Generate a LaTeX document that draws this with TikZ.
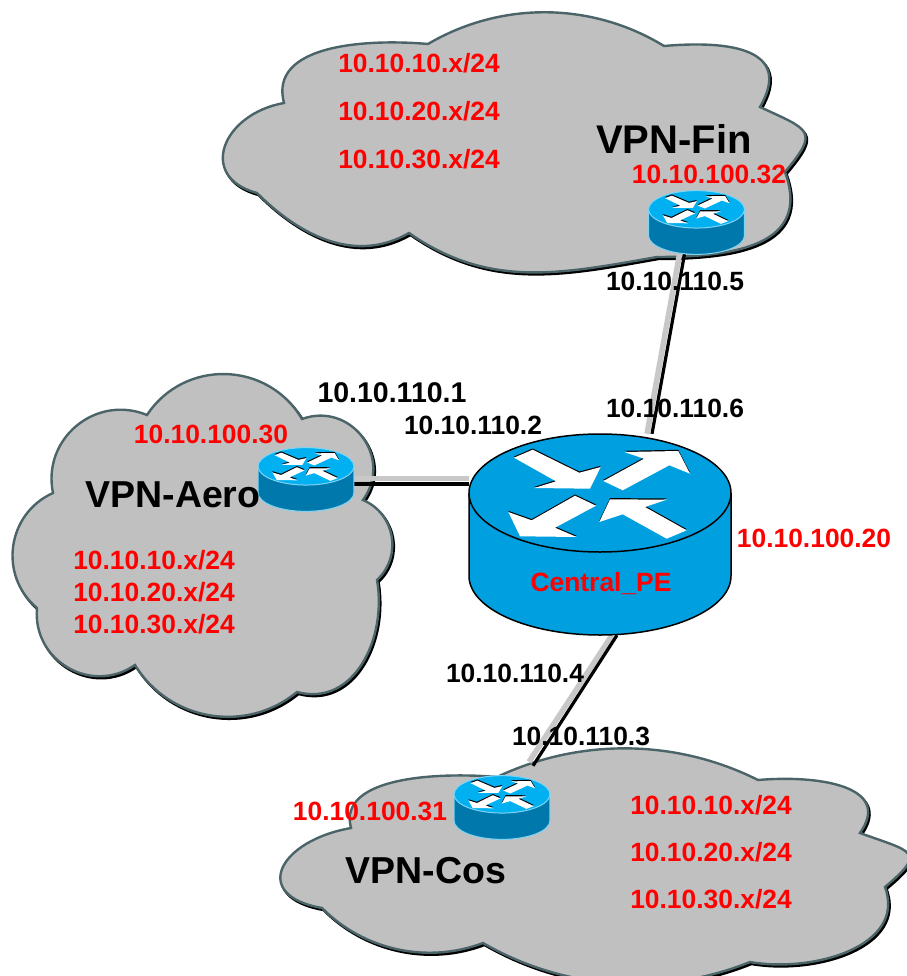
\documentclass[tikz,border=0pt]{standalone}
\usepackage{fontspec}
\setmainfont{Liberation Sans}
\usetikzlibrary{positioning}
\definecolor{cloudgray}{HTML}{C0C0C0}
\definecolor{cloudedge}{HTML}{4A6468}
\definecolor{toplight}{HTML}{00B0F0}
\definecolor{sidedark}{HTML}{0078AC}
\definecolor{edgelight}{HTML}{7FD4F4}
\definecolor{peblue}{HTML}{009FDF}
\definecolor{linkgray}{HTML}{C8C8C8}
\tikzstyle{vpncloud} = [fill=cloudgray, draw=cloudedge, line width=2.4pt, preaction={draw=black, fill=black, line width=2.4pt, transform canvas={xshift=1.5pt, yshift=-2pt}}]
\tikzstyle{routerbox} = [rectangle, inner sep=0pt, minimum width=96pt, minimum height=63pt]
\tikzstyle{pebox} = [rectangle, inner sep=0pt, minimum width=262pt, minimum height=201pt]
\tikzstyle{link} = [draw=black, line width=3.2pt]
\tikzstyle{linkshade} = [draw=linkgray, line width=5.5pt]
\tikzstyle{addr} = [inner sep=0pt, font=\fontsize{26.4}{26.4}\selectfont\bfseries]
\tikzstyle{rednote} = [addr, text=red]
\tikzstyle{vpnname} = [inner sep=0pt, font=\fontsize{37.5}{37.5}\selectfont\bfseries]
\tikzstyle{arrowtop} = [fill=white, preaction={fill=black, transform canvas={yshift=1.2pt}}]
\tikzset{bump/.code={\pgfmathsetmacro\bumploose{1.703/(1+cos(#1))}\tikzset{bend left=#1, looseness=\bumploose}}}
\tikzset{pics/router/.style n args={3}{code={
  \path [fill=#2] (-131,41.5) -- (-131,-41.5) arc [x radius=131, y radius=59, start angle=180, end angle=360] -- (131,41.5) -- cycle;
  \draw [#3] (-131,41.5) -- (-131,-41.5) arc [x radius=131, y radius=59, start angle=180, end angle=360] -- (131,41.5);
  \draw [#3, fill=#1] (0,41.5) ellipse [x radius=131, y radius=59];
  \begin{scope}[shift={(0,41.5)}]
  \fill [arrowtop] (-86,35.3) -- (-67.3,43.3) -- (-20.7,20.3) -- (0.7,26) -- (-10,4.3) -- (-65.7,5) -- (-44,11.7) -- cycle;
  \fill [arrowtop] (3.3,12) -- (44,34.3) -- (24.3,41) -- (78.3,42) -- (90,19.3) -- (69.3,27.7) -- (22.7,2.7) -- cycle;
  \fill [arrowtop] (-91.7,-19) -- (-68.3,-27.3) -- (-25,-2.7) -- (-4,-12.7) -- (-45,-34.7) -- (-23.3,-44) -- (-80,-43.3) -- cycle;
  \fill [arrowtop] (86.7,-37.3) -- (66.7,-45.7) -- (22.7,-21.3) -- (-.7,-29) -- (10,-6.3) -- (66.7,-6.7) -- (45,-14) -- cycle;
  \end{scope}
}}}

\begin{document}
\begin{tikzpicture}[x=1pt, y=1pt]

\useasboundingbox (0,0) rectangle (906,-976);

% clouds
\path [vpncloud] (284,-103) to[out=105,in=175] (428,-44) to[bump=31] (664,-46)
  to[out=5,in=60,looseness=1.5] (760,-107) to[out=-25,in=50,looseness=2] (785,-172)
  to[out=-70,in=0,looseness=1.3] (657,-257) to[out=190,in=-35] (409,-233)
  to[out=-150,in=-45] (257,-193) to[out=165,in=190,looseness=1.7] (284,-103) -- cycle;

\path [vpncloud] (147,-415) to[bump=58] (302,-419) to[bump=73] (363,-500)
  to[bump=57] (377,-580) to[out=-80,in=-15,looseness=1.1] (297,-692) to[bump=49] (135,-665)
  to[bump=65] (37,-608) to[bump=58] (53,-493) to[bump=62] (147,-415) -- cycle;

\path [vpncloud] (351,-828) to[out=105,in=175,looseness=.9] (497,-777) to[bump=26] (758,-780)
  to[out=5,in=55,looseness=1.3] (860,-833) to[out=-20,in=40,looseness=2.4] (885,-887)
  to[out=-70,in=-10,looseness=1.05] (750,-962) to[bump=26] (483,-943)
  to[bump=33] (322,-908) to[out=170,in=190,looseness=2.2] (351,-828) -- cycle;

% routers
\node [pebox] (centralpe) at (600,-534.5) {};
\node [routerbox] (fin) at (696.5,-222.5) {};
\node [routerbox] (aero) at (306,-479.5) {};
\node [routerbox] (cos) at (502,-807.5) {};

% links
\draw [linkshade] ([xshift=-17pt]fin.south) -- ([xshift=47pt]centralpe.north);
\draw [link] ([xshift=-12pt]fin.south) -- ([xshift=52pt]centralpe.north);
\draw [linkshade] ([yshift=1pt]aero.east) -- ([yshift=56pt]centralpe.west);
\draw [link] ([yshift=-4.5pt]aero.east) -- ([yshift=50.5pt]centralpe.west);
\draw [linkshade] ([xshift=12pt]centralpe.south) -- ([xshift=27pt,yshift=14pt]cos.north);
\draw [link] ([xshift=17pt]centralpe.south) -- ([xshift=31pt,yshift=10pt]cos.north);

\pic [xscale=.366, yscale=.317] at (fin) {router={toplight}{sidedark}{draw=edgelight, line width=1pt}};
\pic [xscale=.366, yscale=.317] at (aero) {router={toplight}{sidedark}{draw=edgelight, line width=1pt}};
\pic [xscale=.366, yscale=.317] at (cos) {router={toplight}{sidedark}{draw=edgelight, line width=1pt}};
\pic at (centralpe) {router={peblue}{peblue}{draw=black, line width=1.5pt}};

% link addresses
\node [addr] (finlan) at (675,-281) {10.10.110.5};
\node [addr] (pefin) at (675,-408) {10.10.110.6};
\node [addr, font=\fontsize{28.5}{28.5}\selectfont\bfseries] (aerolan) at (392,-393) {10.10.110.1};
\node [addr] (peaero) at (473,-425) {10.10.110.2};
\node [addr] (pecos) at (515,-673) {10.10.110.4};
\node [addr] (coslan) at (581,-736) {10.10.110.3};

% loopbacks
\node [rednote] (finloop) at (709,-174) {10.10.100.32};
\node [rednote] (aeroloop) at (211,-434) {10.10.100.30};
\node [rednote] (cosloop) at (370,-811) {10.10.100.31};
\node [rednote] (peloop) at (814,-538) {10.10.100.20};
\node [rednote] (pename) at (601,-584) {Central\_PE};

% names
\node [vpnname, font=\fontsize{40}{40}\selectfont\bfseries] (finname) at (674,-139) {VPN-Fin};
\node [vpnname] (aeroname) at (173,-495) {VPN-Aero};
\node [vpnname] (cosname) at (426,-871) {VPN-Cos};

% subnets
\node [rednote] (finnetone) at (419,-63) {10.10.10.x/24};
\node [rednote, below of=finnetone, node distance=48pt] (finnettwo) {10.10.20.x/24};
\node [rednote, below of=finnettwo, node distance=48pt] (finnetthree) {10.10.30.x/24};
\node [rednote] (aeronetone) at (154,-560) {10.10.10.x/24};
\node [rednote, below of=aeronetone, node distance=32pt] (aeronettwo) {10.10.20.x/24};
\node [rednote, below of=aeronettwo, node distance=32pt] (aeronetthree) {10.10.30.x/24};
\node [rednote] (cosnetone) at (711,-805) {10.10.10.x/24};
\node [rednote, below of=cosnetone, node distance=47pt] (cosnettwo) {10.10.20.x/24};
\node [rednote, below of=cosnettwo, node distance=47pt] (cosnetthree) {10.10.30.x/24};

\end{tikzpicture}
\end{document}
